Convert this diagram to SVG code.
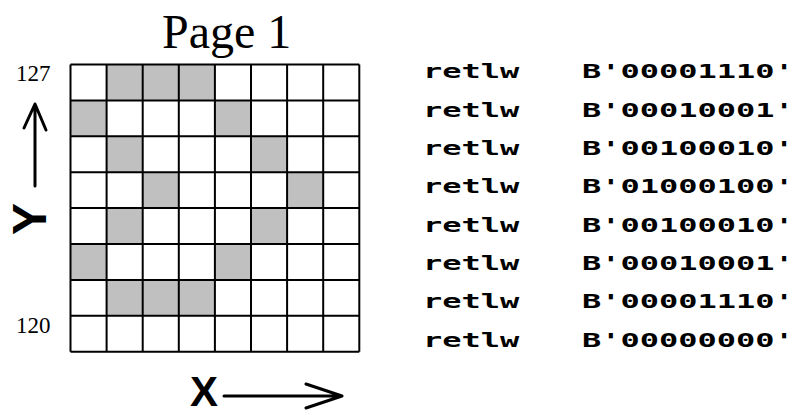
<svg xmlns="http://www.w3.org/2000/svg" width="798" height="414" viewBox="0 0 798 414">
  <style>
    .cell { fill: #c0c0c0; }
    .grid { stroke: #000; stroke-width: 2; fill: none; }
    .arrow { stroke: #000; stroke-width: 3; fill: none; stroke-linecap: round; stroke-linejoin: round; }
    .title { font-family: "Liberation Serif", "Times New Roman", serif; font-size: 48px; fill: #000; }
    .num { font-family: "Liberation Serif", "Times New Roman", serif; font-size: 23px; fill: #000; }
    .axis { font-family: "Liberation Sans", Arial, sans-serif; font-weight: bold; fill: #000; }
    .code { font-family: "DejaVu Sans Mono", "Liberation Mono", monospace; font-weight: bold; font-size: 20px; fill: #000; }
  </style>
  <rect width="798" height="414" fill="#fff"/>

  <text id="title" class="title" x="162" y="48">Page 1</text>

  <!-- 8x8 pixel grid, shaded cells are set bits -->
  <g id="bitmap">
    <g id="shaded">
      <rect class="cell" x="106.6" y="64.5" width="108.3" height="35.9"/>
      <rect class="cell" x="70.5" y="100.4" width="36.1" height="35.9"/>
      <rect class="cell" x="214.9" y="100.4" width="36.1" height="35.9"/>
      <rect class="cell" x="106.6" y="136.3" width="36.1" height="35.9"/>
      <rect class="cell" x="251" y="136.3" width="36.1" height="35.9"/>
      <rect class="cell" x="142.7" y="172.2" width="36.1" height="35.9"/>
      <rect class="cell" x="287.1" y="172.2" width="36.1" height="35.9"/>
      <rect class="cell" x="106.6" y="208.1" width="36.1" height="35.9"/>
      <rect class="cell" x="251" y="208.1" width="36.1" height="35.9"/>
      <rect class="cell" x="70.5" y="244" width="36.1" height="35.9"/>
      <rect class="cell" x="214.9" y="244" width="36.1" height="35.9"/>
      <rect class="cell" x="106.6" y="279.9" width="108.3" height="35.9"/>
    </g>
    <path class="grid" d="M70.5 64.5V351.7M106.6 64.5V351.7M142.7 64.5V351.7M178.8 64.5V351.7M214.9 64.5V351.7M251 64.5V351.7M287.1 64.5V351.7M323.2 64.5V351.7M359.3 64.5V351.7
      M70.5 64.5H359.3M70.5 100.4H359.3M70.5 136.3H359.3M70.5 172.2H359.3M70.5 208.1H359.3M70.5 244H359.3M70.5 279.9H359.3M70.5 315.8H359.3M70.5 351.7H359.3"/>
  </g>

  <g id="y-axis">
    <text class="num" x="16" y="81">127</text>
    <text class="num" x="16" y="333">120</text>
    <text class="axis" font-size="48" text-anchor="middle" transform="translate(46,219) rotate(-90)">Y</text>
  </g>
  <g id="x-axis">
    <text class="axis" font-size="42" x="190" y="406">X</text>
  </g>

  <g id="connectors">
    <path class="arrow" d="M35 186V104M24 128L35 104L46 130"/>
    <path class="arrow" d="M224 396H342M306 384L342 396L306 408"/>
  </g>

  <!-- retlw table, one row per bitmap line -->
  <g id="code">
    <g transform="translate(423,0) scale(1.6,1)">
      <text class="code" x="0" y="78.3">retlw</text>
      <text class="code" x="0" y="116.6">retlw</text>
      <text class="code" x="0" y="155">retlw</text>
      <text class="code" x="0" y="193.3">retlw</text>
      <text class="code" x="0" y="231.7">retlw</text>
      <text class="code" x="0" y="270">retlw</text>
      <text class="code" x="0" y="308.3">retlw</text>
      <text class="code" x="0" y="346.7">retlw</text>
    </g>
    <g transform="translate(582,0) scale(1.6,1)">
      <text class="code" x="0" y="78.3">B'00001110'</text>
      <text class="code" x="0" y="116.6">B'00010001'</text>
      <text class="code" x="0" y="155">B'00100010'</text>
      <text class="code" x="0" y="193.3">B'01000100'</text>
      <text class="code" x="0" y="231.7">B'00100010'</text>
      <text class="code" x="0" y="270">B'00010001'</text>
      <text class="code" x="0" y="308.3">B'00001110'</text>
      <text class="code" x="0" y="346.7">B'00000000'</text>
    </g>
  </g>
</svg>
